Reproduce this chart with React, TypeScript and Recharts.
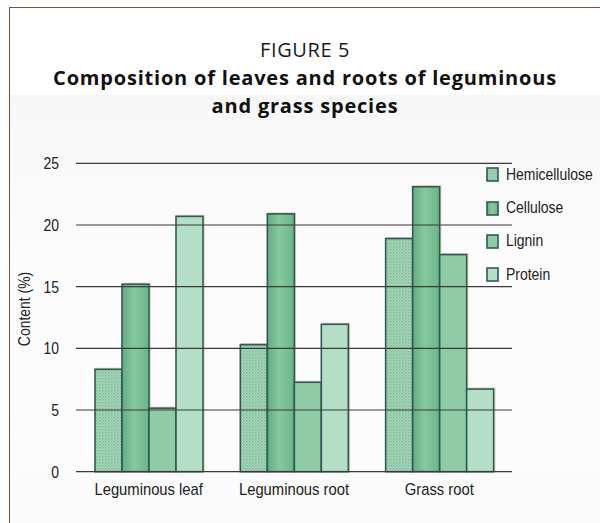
import React from 'react';
import { BarChart, Bar, XAxis, YAxis, ReferenceLine, Legend } from 'recharts';

const categories = ['Leguminous leaf', 'Leguminous root', 'Grass root'];
const hemicellulose = [8.3, 10.3, 18.9];
const cellulose = [15.2, 20.9, 23.1];
const lignin = [5.15, 7.25, 17.6];
const protein = [20.7, 11.95, 6.7];
const yTicks = [0, 5, 10, 15, 20, 25];

const seriesNames = ['Hemicellulose', 'Cellulose', 'Lignin', 'Protein'];
const seriesKeys = ['hemicellulose', 'cellulose', 'lignin', 'protein'];
const seriesFills = ['url(#hemiPat)', 'url(#celGrad)', '#8fcca6', '#b4dec5'];

const data = categories.map((c, i) => ({
  category: c,
  hemicellulose: hemicellulose[i],
  cellulose: cellulose[i],
  lignin: lignin[i],
  protein: protein[i],
}));

const SANS = "'Liberation Sans', Arial, sans-serif";
const STROKE = '#2e5a56';

const BarShape = (props: any) => {
  const { x, y, width, height, fill } = props;
  if (!height || height <= 0) return null;
  return (
    <g>
      <rect x={x + 1.2} y={y - 1} width={width} height={height + 1} fill="none" stroke="#f3c4aa" strokeWidth={1} />
      <rect x={x} y={y} width={width} height={height} fill={fill} stroke={STROKE} strokeWidth={1.6} />
    </g>
  );
};

const XTick = (props: any) => {
  const { x, y, payload } = props;
  return (
    <g transform={`translate(${x},${y})`}>
      <text transform="scale(0.87,1)" x={0} y={0} dy="0.71em" textAnchor="middle" fontFamily={SANS} fontSize={17} fill="#222">
        {payload.value}
      </text>
    </g>
  );
};

const YTick = (props: any) => {
  const { x, y, payload } = props;
  return (
    <g transform={`translate(${x},${y})`}>
      <text transform="scale(0.82,1)" x={0} y={0} dy="0.355em" textAnchor="end" fontFamily={SANS} fontSize={17} fill="#222">
        {payload.value}
      </text>
    </g>
  );
};

const LegendContent = () => (
  <div style={{ fontFamily: SANS, fontSize: 17, color: '#222', width: 200 }}>
    {seriesNames.map((n, i) => (
      <div key={n} style={{ display: 'flex', alignItems: 'center', height: 33.4 }}>
        <svg width={13} height={15} style={{ marginRight: 7, flexShrink: 0 }}>
          <rect x={1} y={1} width={11} height={13} fill={seriesFills[i]} stroke={STROKE} strokeWidth={1.6} />
        </svg>
        <span style={{ display: 'inline-block', transform: 'scaleX(0.82)', transformOrigin: 'left center', whiteSpace: 'nowrap' }}>{n}</span>
      </div>
    ))}
  </div>
);

export default function App() {
  return (
    <div style={{ position: 'absolute', left: 0, top: 0, width: 600, height: 523, background: '#ffffff', overflow: 'hidden' }}>
      <div style={{ position: 'absolute', left: 10, top: 95, width: 590, height: 428, background: 'linear-gradient(180deg, #f6f7f6 0%, #fcfcfc 40%, #fafbfa 100%)' }} />
      <div style={{ position: 'absolute', left: 8.5, top: 6.8, width: 600, height: 600, borderLeft: '1.6px solid #7d4c3e', borderTop: '1.6px solid #7d4c3e' }} />
      <svg width={600} height={523} style={{ position: 'absolute', left: 0, top: 0 }}>
        <text x={305} y={57} textAnchor="middle" fontFamily="'Open Sans', sans-serif" fontSize={20} letterSpacing={0.6} fill="#1a1a1a">FIGURE 5</text>
        <text x={305} y={85} textAnchor="middle" fontFamily="'Open Sans', sans-serif" fontWeight={700} fontSize={20} letterSpacing={0.8} fill="#111">Composition of leaves and roots of leguminous</text>
        <text x={305} y={113} textAnchor="middle" fontFamily="'Open Sans', sans-serif" fontWeight={700} fontSize={20} letterSpacing={0.8} fill="#111">and grass species</text>
        <text x={0} y={0} transform="translate(30,309) rotate(-90) scale(0.82,1)" textAnchor="middle" fontFamily={SANS} fontSize={17} fill="#222">Content (%)</text>
      </svg>
      <div style={{ position: 'absolute', left: 0, top: 0 }}>
        <BarChart
          width={600}
          height={523}
          data={data}
          margin={{ top: 163.3, right: 88, bottom: 21.3, left: 0 }}
          barCategoryGap={19}
          barGap={0}
        >
          <defs>
            <pattern id="hemiPat" width={3} height={3} patternUnits="userSpaceOnUse">
              <rect width={3} height={3} fill="#aad8bb" />
              <rect width={1.5} height={1.5} fill="#7cb896" />
              <rect x={1.5} y={1.5} width={1.5} height={1.5} fill="#90c9a6" />
            </pattern>
            <linearGradient id="celGrad" x1="0" y1="0" x2="1" y2="0">
              <stop offset="0%" stopColor="#5fae81" />
              <stop offset="45%" stopColor="#88c89f" />
              <stop offset="100%" stopColor="#68b588" />
            </linearGradient>
          </defs>
          <XAxis
            dataKey="category"
            height={30}
            axisLine={false}
            tickLine={false}
            tickSize={0}
            tickMargin={11.5}
            tick={XTick}
            interval={0}
          />
          <YAxis
            width={76}
            domain={[0, 25]}
            ticks={yTicks}
            axisLine={false}
            tickLine={false}
            tickSize={0}
            tickMargin={17}
            tick={YTick}
            interval={0}
          />
          {seriesKeys.map((k, i) => (
            <Bar key={k} dataKey={k} name={seriesNames[i]} fill={seriesFills[i]} shape={BarShape} isAnimationActive={false} />
          ))}
          {yTicks.map((t) => (
            <ReferenceLine key={t} y={t} stroke="#3a3a3a" strokeWidth={1.2} />
          ))}
          <Legend
            layout="vertical"
            verticalAlign="middle"
            align="center"
            content={LegendContent}
            wrapperStyle={{ position: 'absolute', left: 486, top: 158, width: 114, height: 140 }}
          />
        </BarChart>
      </div>
    </div>
  );
}
